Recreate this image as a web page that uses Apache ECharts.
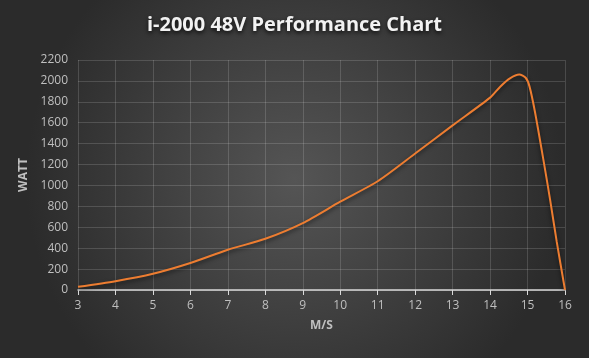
<!DOCTYPE html>
<html><head><meta charset="utf-8">
<script src="https://cdn.jsdelivr.net/npm/echarts@6/dist/echarts.min.js"></script>
<style>html,body{margin:0;padding:0;background:#fff}#c{width:589px;height:358px}</style>
</head><body><div id="c"></div>
<script>
const titleText = 'i-2000 48V Performance Chart';
const xName = 'M/S';
const yName = 'WATT';
const speed = [3,4,5,6,7,8,9,10,11,12,13,14,14.27,14.53,14.78,14.95,15.05,15.2,15.45,15.6,15.78,16];
const watt  = [30,84,155,258,385,490,640,845,1040,1305,1575,1840,1945,2025,2062,2030,1950,1700,1190,870,460,0];

const data = speed.map((s,i)=>[s,watt[i]]);
const chart = echarts.init(document.getElementById('c'));
chart.setOption({
  backgroundColor: {type:'radial', x:0.5, y:0.5, r:0.75, colorStops:[{offset:0,color:'#555555'},{offset:1,color:'#2b2b2b'}]},
  title:{text:titleText,left:'center',top:10,textStyle:{color:'#f2f2f2',fontSize:20,fontWeight:'bold',fontFamily:'Open Sans',textShadowColor:'rgba(0,0,0,0.8)',textShadowBlur:4,textShadowOffsetY:2}},
  grid:{left:78,right:24,top:60,bottom:68},
  xAxis:{type:'value',min:3,max:16,interval:1,name:xName,nameLocation:'middle',nameGap:30,
    nameTextStyle:{color:'#bfbfbf',fontSize:12,fontWeight:'bold',fontFamily:'Open Sans'},
    axisLine:{show:true,onZero:false,lineStyle:{color:'#d9d9d9',width:1.5}},
    axisTick:{show:true,length:5,lineStyle:{color:'#d9d9d9'}},
    axisLabel:{color:'#bfbfbf',fontSize:12,margin:10,fontFamily:'Open Sans'},
    splitLine:{show:true,lineStyle:{color:'rgba(255,255,255,0.15)'}}},
  yAxis:{type:'value',min:0,max:2200,interval:200,name:yName,nameLocation:'middle',nameGap:48,nameRotate:90,
    nameTextStyle:{color:'#bfbfbf',fontSize:12,fontWeight:'bold',fontFamily:'Open Sans'},
    axisLine:{show:false},axisTick:{show:false},
    axisLabel:{color:'#bfbfbf',fontSize:12,margin:10,fontFamily:'Open Sans',formatter:v=>String(v)},
    splitLine:{show:true,lineStyle:{color:'rgba(255,255,255,0.15)'}}},
  series:[{type:'line',data:data,smooth:0.25,showSymbol:false,
    lineStyle:{color:'#ed7d31',width:2,shadowColor:'rgba(0,0,0,0.6)',shadowBlur:4,shadowOffsetY:2}}],
  animation:false
});
</script></body></html>
